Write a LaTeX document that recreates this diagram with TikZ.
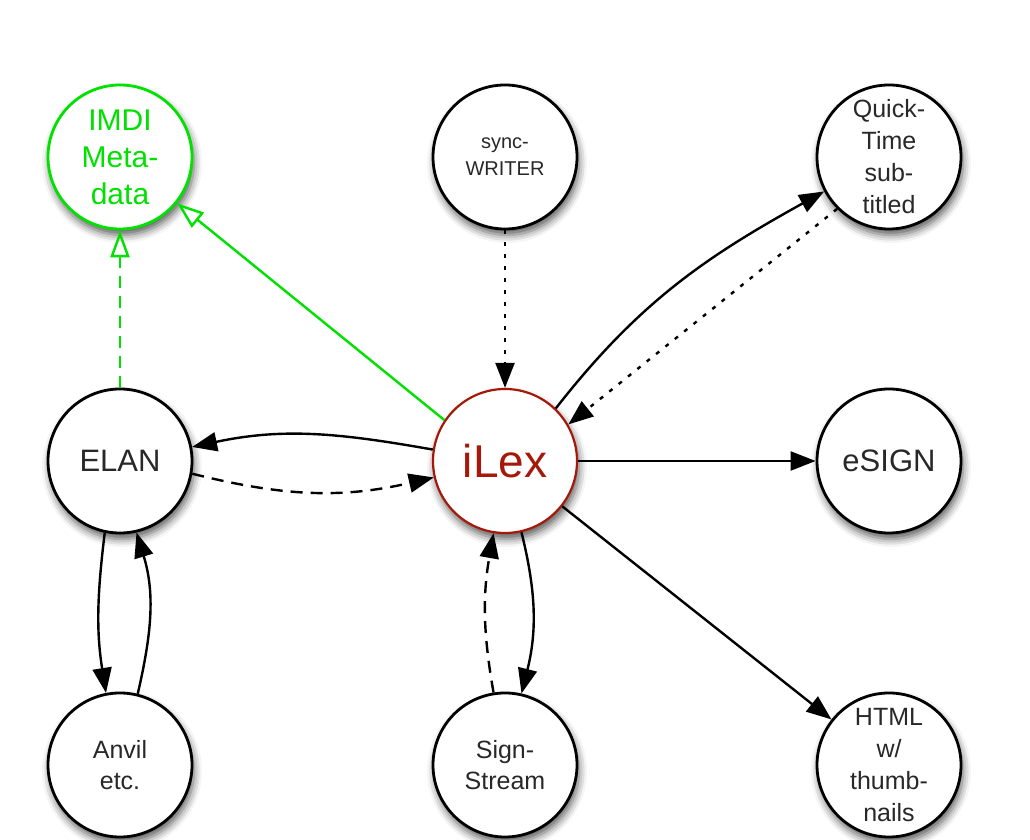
\documentclass[tikz,border=0pt]{standalone}
\usepackage{fontspec}
\setmainfont{Liberation Sans}
\usetikzlibrary{arrows.meta,shadows.blur}
\definecolor{txt}{RGB}{40,40,40}
\definecolor{ilexred}{RGB}{165,25,10}
\definecolor{imdigreen}{RGB}{0,225,0}
\begin{document}
\begin{tikzpicture}[x=1pt,y=1pt,
  bub/.style={circle,draw=black,line width=2.8pt,fill=white,minimum size=144pt,inner sep=0pt,
     blur shadow={shadow xshift=2pt,shadow yshift=-6pt,shadow blur radius=8pt,shadow opacity=65}},
  lbl/.style={text=txt,align=center,inner sep=0pt},
  arr/.style={line width=2.4pt,-{Triangle[length=25pt,width=19pt]}},
  garr/.style={draw=imdigreen,line width=2.4pt,-{Triangle[open,length=27pt,width=19pt,line width=2.4pt]}},
  dsh/.style={dash pattern=on 12pt off 8pt},
  dotline/.style={dash pattern=on 4pt off 8pt}
]
\useasboundingbox (0,0) rectangle (1030,840);

\node[bub,draw=imdigreen,label={[lbl,text=imdigreen,font=\fontsize{30}{37}\selectfont]center:{IMDI\\Meta-\\data}}] (imdi) at (120,683) {};
\node[bub,label={[lbl,font=\fontsize{20}{27}\selectfont]center:{sync-\\WRITER}}] (sync) at (505,683) {};
\node[bub,label={[lbl,font=\fontsize{25}{32}\selectfont]center:{Quick-\\Time\\sub-\\titled}}] (qt) at (889,683) {};
\node[bub,label={[lbl,font=\fontsize{31}{37}\selectfont]center:ELAN}] (elan) at (120,379) {};
\node[bub,draw=ilexred,line width=2.2pt,label={[lbl,text=ilexred,font=\fontsize{46}{52}\selectfont]center:iLex}] (ilex) at (505,379) {};
\node[bub,label={[lbl,font=\fontsize{31}{37}\selectfont]center:eSIGN}] (esign) at (889,379) {};
\node[bub,label={[lbl,font=\fontsize{25}{31}\selectfont]center:{Anvil\\etc.}}] (anvil) at (120,75) {};
\node[bub,label={[lbl,font=\fontsize{25}{31}\selectfont]center:{Sign-\\Stream}}] (ss) at (505,75) {};
\node[bub,label={[lbl,font=\fontsize{25}{32}\selectfont]center:{HTML\\w/\\thumb-\\nails}}] (html) at (889,75) {};

\draw[garr] (ilex.146) -- (imdi.-39);
\draw[garr,dsh] (elan) -- (imdi);
\draw[arr,dotline] (sync) -- (ilex);
\draw[arr] (ilex.46) to[out=52,in=209] (qt.208);
\draw[arr,dotline] (qt.225) -- (ilex.30);
\draw[arr] (ilex.171) to[out=170,in=12] (elan.11);
\draw[arr,dsh] (elan.-10) to[out=-14,in=193] (ilex.193);
\draw[arr] (ilex) -- (esign);
\draw[arr] (ilex) -- (html);
\draw[arr] (ilex.-77) to[out=-76,in=76] (ss.77);
\draw[arr,dsh] (ss.99) to[out=100,in=260] (ilex.261);
\draw[arr] (elan.258) to[out=263,in=99] (anvil.101);
\draw[arr] (anvil.76) to[out=77,in=287] (elan.283);
\end{tikzpicture}
\end{document}
